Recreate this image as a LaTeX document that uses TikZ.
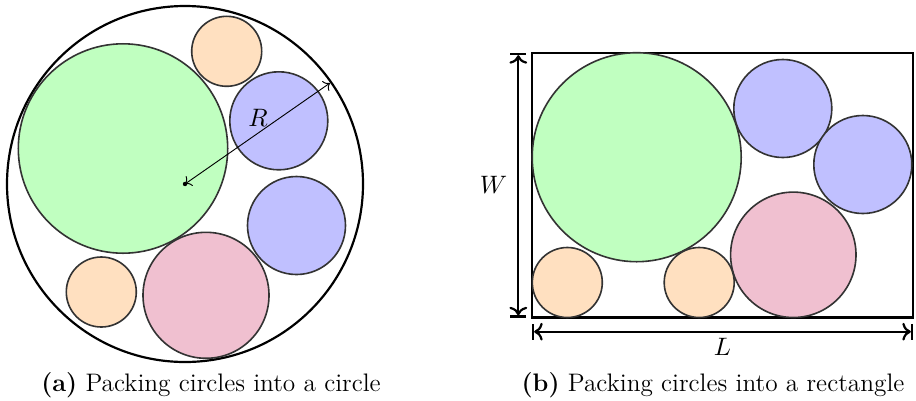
\documentclass[tikz,border=0pt]{standalone}
\usepackage{tikz}
\usetikzlibrary{arrows.meta}
\definecolor{discgreen}{RGB}{192,255,192}
\definecolor{discblue}{RGB}{192,192,255}
\definecolor{discorange}{RGB}{255,224,192}
\definecolor{discpink}{RGB}{240,192,208}
\begin{document}
\begin{tikzpicture}[x=0.4345pt,y=-0.4345pt,font=\fontsize{11}{13}\selectfont,disc/.style={draw=black!80,line width=0.7pt},frame/.style={draw,line width=0.95pt},dim/.style={line width=0.95pt,|<->|},>=To]
\useasboundingbox (0,0) rectangle (916,400);
% (a) circle container
\coordinate (c) at (185,184);
\coordinate (rim) at (330,83);
\draw[frame] (c) circle[radius=178];
\draw[disc,fill=discgreen] (123,148.5) circle[radius=104.7];
\draw[disc,fill=discorange] (226.7,51.3) circle[radius=35];
\draw[disc,fill=discblue] (278.8,120.8) circle[radius=49];
\draw[disc,fill=discblue] (296.5,225.5) circle[radius=49];
\draw[disc,fill=discpink] (206,295.3) circle[radius=63];
\draw[disc,fill=discorange] (101.3,292) circle[radius=35];
\fill (c) circle[radius=2.2];
\draw[<->] (c) -- (rim);
\node (r) at (258,118) {$R$};
\node (capa) at (211,385) {\textbf{(a)} Packing circles into a circle};
% (b) rectangle container
\coordinate (nw) at (532,53);
\coordinate (sw) at (532,317.5);
\coordinate (se) at (913,317.5);
\draw[frame] (nw) rectangle (se);
\draw[disc,fill=discgreen] (636.7,157.2) circle[radius=104.5];
\draw[disc,fill=discblue] (782.8,108.5) circle[radius=49];
\draw[disc,fill=discblue] (862.8,164.5) circle[radius=49];
\draw[disc,fill=discpink] (793.3,254.8) circle[radius=62.7];
\draw[disc,fill=discorange] (567.3,282.5) circle[radius=35];
\draw[disc,fill=discorange] (699.2,282.5) circle[radius=35];
\coordinate (wt) at (518.3,53);
\coordinate (wb) at (518.3,317.5);
\coordinate (ll) at (532,331.7);
\coordinate (lr) at (913,331.7);
\draw[dim] (wt) -- node[left=1pt] (w) {$W$} (wb);
\draw[dim] (ll) -- node[below=-1pt] (l) {$L$} (lr);
\node (capb) at (713,385) {\textbf{(b)} Packing circles into a rectangle};
\end{tikzpicture}
\end{document}
